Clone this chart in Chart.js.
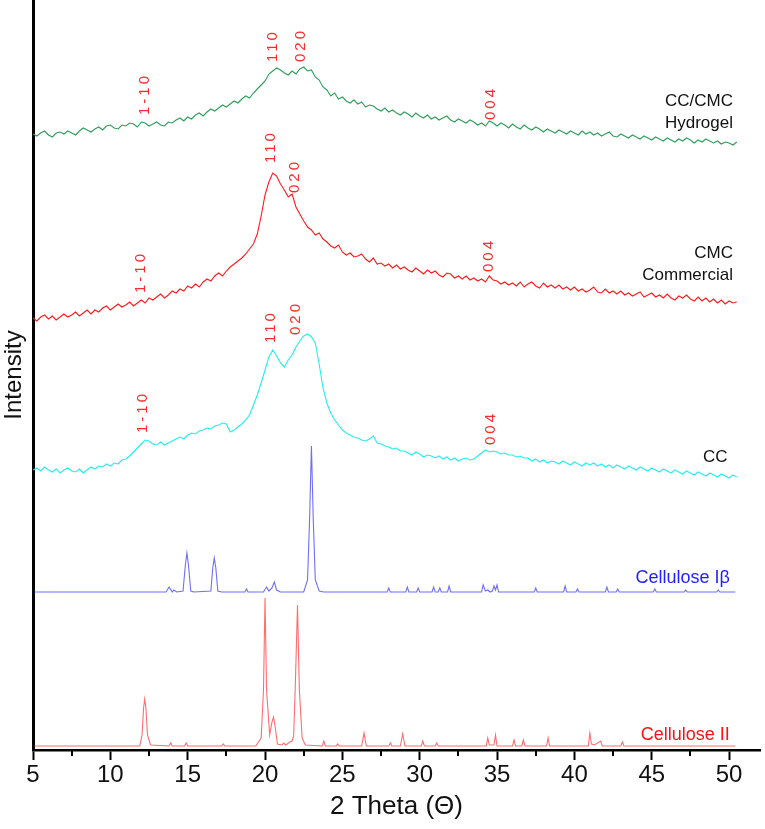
<!DOCTYPE html>
<html lang="en">
  <head>
    <meta charset="UTF-8" />
    <title>XRD patterns</title>
    <script src="https://cdn.jsdelivr.net/npm/chart.js"></script>
    <style>
      body { margin: 0; background: #fff; }
    </style>
  </head>
  <body>
    <canvas id="xrdChart" width="765" height="829"></canvas>
    <script>
      // 2 theta scan points (deg) for the three measured samples
      const twoTheta = [
        5, 5.25, 5.5, 5.75, 6, 6.25, 6.5, 6.75, 7, 7.25, 7.5, 7.75, 8, 8.25, 8.5, 8.75,
        9, 9.25, 9.5, 9.75, 10, 10.25, 10.5, 10.75, 11, 11.25, 11.5, 11.75, 12, 12.25, 12.5, 12.75,
        13, 13.25, 13.5, 13.75, 14, 14.25, 14.5, 14.75, 15, 15.25, 15.5, 15.75, 16, 16.25, 16.5, 16.75,
        17, 17.25, 17.5, 17.75, 18, 18.25, 18.5, 18.75, 19, 19.25, 19.5, 19.75, 20, 20.25, 20.5, 20.75,
        21, 21.25, 21.5, 21.75, 22, 22.25, 22.5, 22.75, 23, 23.25, 23.5, 23.75, 24, 24.25, 24.5, 24.75,
        25, 25.25, 25.5, 25.75, 26, 26.25, 26.5, 26.75, 27, 27.25, 27.5, 27.75, 28, 28.25, 28.5, 28.75,
        29, 29.25, 29.5, 29.75, 30, 30.25, 30.5, 30.75, 31, 31.25, 31.5, 31.75, 32, 32.25, 32.5, 32.75,
        33, 33.25, 33.5, 33.75, 34, 34.25, 34.5, 34.75, 35, 35.25, 35.5, 35.75, 36, 36.25, 36.5, 36.75,
        37, 37.25, 37.5, 37.75, 38, 38.25, 38.5, 38.75, 39, 39.25, 39.5, 39.75, 40, 40.25, 40.5, 40.75,
        41, 41.25, 41.5, 41.75, 42, 42.25, 42.5, 42.75, 43, 43.25, 43.5, 43.75, 44, 44.25, 44.5, 44.75,
        45, 45.25, 45.5, 45.75, 46, 46.25, 46.5, 46.75, 47, 47.25, 47.5, 47.75, 48, 48.25, 48.5, 48.75,
        49, 49.25, 49.5, 49.75, 50, 50.25, 50.5
      ];

      // stacked intensities (a.u.), two degrees per row
      const hydrogel = [
        616, 614, 617, 619, 615, 613, 617, 618,
        616, 619, 617, 615, 619, 622, 620, 618,
        621, 623, 620, 624, 625, 622, 621, 625,
        624, 627, 626, 623, 628, 627, 624, 626,
        628, 625, 624, 628, 627, 630, 632, 629,
        633, 631, 635, 637, 634, 638, 641, 639,
        642, 645, 643, 646, 649, 647, 651, 654,
        652, 657, 661, 665, 669, 676, 679, 682,
        680, 677, 675, 679, 676, 681, 683, 679,
        680, 673, 670, 663, 660, 654, 657, 651,
        653, 649, 647, 650, 646, 648, 643, 645,
        644, 641, 639, 642, 638, 640, 637, 635,
        638, 636, 633, 637, 634, 632, 635, 631,
        633, 630, 632, 634, 630, 628, 631, 629,
        627, 630, 628, 625, 627, 624, 629, 627,
        624, 627, 625, 622, 626, 623, 621, 625,
        622, 620, 623, 621, 618, 621, 619, 617,
        620, 618, 616, 619, 617, 615, 619, 616,
        618, 615, 617, 614, 616, 618, 614, 613,
        616, 614, 612, 615, 613, 611, 614, 612,
        610, 613, 611, 609, 612, 610, 608, 611,
        609, 612, 610, 607, 610, 608, 611, 609,
        607, 609, 606, 608, 607, 605, 608
      ];
      const cmcCommercial = [
        432, 429, 433, 435, 431, 434, 430, 433,
        436, 433, 435, 438, 434, 437, 440, 436,
        440, 438, 442, 444, 440, 443, 446, 443,
        445, 448, 444, 447, 450, 447, 452, 450,
        453, 456, 452, 455, 459, 457, 461, 459,
        464, 462, 466, 463, 468, 471, 469, 474,
        477, 474, 479, 483, 486, 489, 492, 496,
        501, 506, 516, 534, 555, 568, 577, 574,
        566, 560, 553, 556, 543, 536, 529, 523,
        520, 515, 517, 511, 508, 504, 502, 505,
        498, 495, 497, 493, 494, 496, 491, 488,
        492, 486, 487, 484, 486, 482, 485, 481,
        483, 480, 478, 482, 479, 476, 480, 477,
        479, 475, 473, 477, 476, 472, 474, 471,
        474, 470, 472, 469, 471, 468, 474, 470,
        469, 466, 468, 465, 467, 464, 468, 463,
        466, 468, 464, 462, 467, 463, 465, 462,
        465, 461, 463, 460, 463, 459, 461, 458,
        460, 463, 458, 457, 461, 457, 459, 456,
        459, 455, 457, 454, 456, 458, 453, 455,
        457, 453, 455, 452, 456, 452, 450, 454,
        452, 455, 451, 449, 453, 449, 452, 448,
        451, 447, 450, 446, 449, 447, 448
      ];
      const cc = [
        280, 282, 279, 283, 280, 278, 281, 277,
        280, 282, 279, 278, 281, 277, 280, 283,
        281, 284, 283, 286, 284, 287, 286, 290,
        291, 294, 298, 302, 306, 310, 309, 306,
        305, 308, 305, 307, 309, 311, 313, 311,
        315, 317, 316, 319, 320, 322, 321, 324,
        325, 327, 326, 318, 320, 323, 326, 330,
        335, 345, 355, 367, 380, 393, 400, 394,
        387, 383, 390, 395, 403, 409, 414, 416,
        413, 407, 386, 362, 347, 337, 330, 325,
        320, 317, 315, 313, 312, 310, 309, 311,
        314, 307, 306, 304, 303, 301, 302, 299,
        299, 297, 295, 298, 296, 293, 295, 294,
        292, 294, 291, 293, 290, 292, 289, 291,
        292, 290, 291, 294, 297, 300, 298, 299,
        298, 296, 297, 295, 295, 293, 294, 292,
        292, 289, 291, 288, 290, 287, 289, 288,
        286, 289, 287, 285, 288, 286, 284, 287,
        285, 287, 284, 286, 283, 285, 282, 285,
        283, 281, 284, 282, 280, 283, 281, 279,
        282, 280, 278, 281, 279, 277, 280, 278,
        276, 279, 277, 275, 278, 276, 274, 277,
        275, 273, 276, 274, 272, 275, 273
      ];

      // reference patterns [2theta, intensity]
      const celluloseIb = [
        [5.1, 158], [13.6, 158], [13.8, 163], [14.0, 158], [14.1, 160], [14.3, 158], [14.7, 159],
        [14.85, 185], [14.95, 197], [15.05, 185], [15.2, 159], [15.4, 158], [16.5, 159], [16.62, 182],
        [16.72, 192], [16.82, 182], [16.95, 159], [17.2, 158], [18.7, 158], [18.8, 161], [18.9, 158],
        [19.9, 158], [20.1, 163], [20.25, 159], [20.45, 162], [20.6, 168], [20.75, 160], [21.0, 158],
        [22.5, 158], [22.75, 170], [22.88, 230], [23.0, 304], [23.12, 230], [23.25, 170], [23.5, 159],
        [23.8, 158], [27.9, 158], [28.0, 162], [28.1, 158], [29.1, 158], [29.2, 163], [29.3, 158],
        [29.8, 158], [29.9, 162], [30.0, 158], [30.8, 158], [30.9, 163], [31.0, 158], [31.2, 158],
        [31.3, 162], [31.4, 158], [31.8, 158], [31.9, 164], [32.0, 158], [34.0, 158], [34.1, 165],
        [34.25, 159], [34.4, 160], [34.55, 158], [34.7, 159], [34.8, 164], [34.9, 160], [35.0, 165],
        [35.1, 158], [37.4, 158], [37.5, 162], [37.6, 158], [39.3, 158], [39.4, 164], [39.5, 158],
        [40.1, 158], [40.2, 161], [40.3, 158], [42.0, 158], [42.1, 163], [42.2, 158], [42.7, 158],
        [42.8, 161], [42.9, 158], [45.1, 158], [45.2, 161], [45.3, 158], [47.1, 158], [47.2, 160],
        [47.3, 158], [49.2, 158], [49.3, 160], [49.4, 158], [50.4, 158]
      ];
      const celluloseII = [
        [5.1, 4], [11.9, 4], [12.05, 15], [12.15, 42], [12.22, 51], [12.3, 42], [12.4, 15], [12.6, 5],
        [13.8, 4], [13.9, 7], [14.0, 4], [14.8, 4], [14.9, 7], [15.0, 4], [17.2, 4], [17.3, 6],
        [17.4, 4], [19.4, 4], [19.75, 12], [19.9, 60], [20.0, 152], [20.1, 60], [20.3, 15], [20.45, 28],
        [20.55, 33], [20.65, 24], [20.8, 6], [21.1, 5], [21.2, 7], [21.35, 5], [21.6, 8], [21.75, 9],
        [21.85, 14], [21.95, 60], [22.1, 145], [22.22, 60], [22.4, 12], [22.6, 5], [23.7, 4], [23.8, 9],
        [23.9, 4], [24.6, 4], [24.7, 6], [24.8, 4], [26.25, 4], [26.4, 17], [26.55, 4], [28.0, 4],
        [28.1, 7], [28.2, 4], [28.75, 4], [28.9, 16], [29.05, 4], [30.1, 4], [30.2, 9], [30.3, 4],
        [31.0, 4], [31.1, 7], [31.2, 4], [34.3, 4], [34.4, 12], [34.5, 5], [34.8, 5], [34.9, 15],
        [35.0, 4], [36.0, 4], [36.1, 10], [36.2, 4], [36.6, 4], [36.7, 10], [36.8, 4], [38.2, 4],
        [38.3, 12], [38.4, 4], [40.9, 4], [41.0, 17], [41.1, 6], [41.3, 5], [41.7, 9], [41.8, 4],
        [43.0, 4], [43.1, 8], [43.2, 4], [50.4, 4]
      ];

      // Miller indices and where they sit on each trace [2theta, intensity]
      const hklLabels = ["1-10", "110", "020", "004"];
      const hydrogelHkl = [[12.2, 635], [20.5, 688], [22.3, 688], [34.6, 630]];
      const cmcHkl = [[12.0, 457], [20.4, 587], [21.9, 557], [34.5, 478]];
      const ccHkl = [[12.1, 317], [20.4, 407], [22.0, 415], [34.6, 305]];

      const sampleNames = ["CC/CMC", "Hydrogel", "CMC", "Commercial", "CC", "Cellulose Iβ", "Cellulose II"];
      const xTickValues = [5, 10, 15, 20, 25, 30, 35, 40, 45, 50];

      const FONT = '"Liberation Sans", Arial, sans-serif';

      const toPoints = (xs, ys) => xs.map((v, i) => ({ x: v, y: ys[i] }));
      const pairPoints = (arr) => arr.map((p) => ({ x: p[0], y: p[1] }));

      // text labels drawn in data coordinates
      const labelLayout = [
        { text: sampleNames[0], x: 50.25, y: 649, color: "#111", size: 17 },
        { text: sampleNames[1], x: 50.25, y: 627, color: "#111", size: 17 },
        { text: sampleNames[2], x: 50.25, y: 497, color: "#111", size: 17 },
        { text: sampleNames[3], x: 50.25, y: 475, color: "#111", size: 17 },
        { text: sampleNames[4], x: 49.9, y: 293, color: "#111", size: 17 },
        { text: sampleNames[5], x: 50.05, y: 172, color: "#1f1fff", size: 18 },
        { text: sampleNames[6], x: 50.05, y: 15, color: "#ff1010", size: 18 },
      ];

      const xrdText = {
        id: "xrdText",
        afterDatasetsDraw(chart) {
          const { ctx } = chart;
          const x = chart.scales.x;
          const y = chart.scales.y;
          ctx.save();
          ctx.fillStyle = "#ff2a2a";
          ctx.font = "15px " + FONT;
          ctx.letterSpacing = "3px";
          ctx.textAlign = "left";
          ctx.textBaseline = "middle";
          [hydrogelHkl, cmcHkl, ccHkl].forEach((set) => {
            set.forEach((p, i) => {
              ctx.save();
              ctx.translate(x.getPixelForValue(p[0]), y.getPixelForValue(p[1]));
              ctx.rotate(-Math.PI / 2);
              ctx.fillText(hklLabels[i], 0, 0);
              ctx.restore();
            });
          });
          ctx.letterSpacing = "0px";
          ctx.textAlign = "right";
          labelLayout.forEach((l) => {
            ctx.fillStyle = l.color;
            ctx.font = l.size + "px " + FONT;
            ctx.fillText(l.text, x.getPixelForValue(l.x), y.getPixelForValue(l.y));
          });
          ctx.restore();
        },
        afterDraw(chart) {
          // minor ticks halfway between the labelled ones
          const { ctx } = chart;
          const x = chart.scales.x;
          const top = chart.chartArea.bottom;
          ctx.save();
          ctx.strokeStyle = "#000";
          ctx.lineWidth = 2;
          for (let v = 7.5; v < 50; v += 5) {
            const px = Math.round(x.getPixelForValue(v));
            ctx.beginPath();
            ctx.moveTo(px, top);
            ctx.lineTo(px, top + 6);
            ctx.stroke();
          }
          ctx.restore();
        },
      };

      const lineSet = (label, data, color) => ({
        label: label,
        data: data,
        borderColor: color,
        borderWidth: 1.1,
        pointRadius: 0,
        tension: 0,
        fill: false,
      });

      new Chart(document.getElementById("xrdChart"), {
        type: "line",
        data: {
          datasets: [
            lineSet("CC/CMC Hydrogel", toPoints(twoTheta, hydrogel), "#2e9e5a"),
            lineSet("CMC Commercial", toPoints(twoTheta, cmcCommercial), "#ff1a1a"),
            lineSet("CC", toPoints(twoTheta, cc), "#22eef2"),
            lineSet("Cellulose Iβ", pairPoints(celluloseIb), "#6f6ff5"),
            lineSet("Cellulose II", pairPoints(celluloseII), "#ff6e6e"),
          ],
        },
        options: {
          responsive: false,
          animation: false,
          layout: { padding: { left: 0, right: 5, top: 0, bottom: 0 } },
          plugins: {
            legend: { display: false },
            tooltip: { enabled: false },
          },
          scales: {
            x: {
              type: "linear",
              min: 5,
              max: 52,
              afterBuildTicks: (s) => {
                s.ticks = xTickValues.map((v) => ({ value: v }));
              },
              afterFit: (s) => {
                s.height = 79;
              },
              ticks: {
                color: "#111",
                padding: 1,
                font: { family: FONT, size: 24 },
              },
              grid: {
                display: true,
                drawOnChartArea: false,
                drawTicks: true,
                tickLength: 10,
                tickWidth: 2,
                tickColor: "#000",
              },
              border: { color: "#000", width: 2.5 },
              title: {
                display: true,
                text: "2 Theta (Θ)",
                color: "#111",
                font: { family: FONT, size: 26 },
                padding: { top: 0, bottom: 7 },
              },
            },
            y: {
              min: 0,
              max: 750,
              afterFit: (s) => {
                s.width = 33;
              },
              ticks: { display: false },
              grid: { display: false },
              border: { color: "#000", width: 3 },
              title: {
                display: true,
                text: "Intensity",
                color: "#111",
                font: { family: FONT, size: 24 },
                padding: 0,
              },
            },
          },
        },
        plugins: [xrdText],
      });
    </script>
  </body>
</html>
